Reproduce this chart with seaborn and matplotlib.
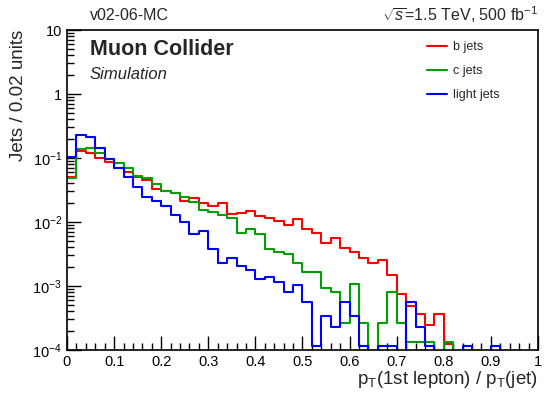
import numpy as np
import pandas as pd
import matplotlib
matplotlib.use("Agg")
import matplotlib.pyplot as plt
from matplotlib.lines import Line2D
import seaborn as sns

# ============================================
# DADOS (bins de 0.02)
# ============================================

bordas = [round(0.02 * i, 2) for i in range(51)]

b_jets = [0.0499, 0.127, 0.121, 0.101, 0.0875, 0.0705, 0.0611, 0.051, 0.0453, 0.0328,
          0.0305, 0.0287, 0.0213, 0.0234, 0.0195, 0.0176, 0.0200, 0.0132, 0.0140, 0.0150,
          0.0124, 0.0114, 0.0104, 0.0090, 0.0110, 0.0078, 0.0067, 0.00465, 0.00562, 0.00396,
          0.0034, 0.00271, 0.00226, 0.00259, 0.00151, 0.00074, 0.00049, 0.000366, 0.000244, 0.000366,
          0.000122, 0, 0, 0, 0, 0, 0, 0, 0, 0]

c_jets = [0.0487, 0.138, 0.145, 0.121, 0.0955, 0.0826, 0.069, 0.0524, 0.0482, 0.0388,
          0.0305, 0.0287, 0.0243, 0.0205, 0.0154, 0.0143, 0.0131, 0.0116, 0.0068, 0.0077,
          0.0064, 0.00374, 0.00337, 0.00316, 0.00231, 0.00167, 0.00167, 0.00093, 0.0008, 0.000266,
          0.00108, 0.000266, 0, 0.000266, 0.0008, 0.000266, 0.000133, 0.000133, 0.000133, 0,
          0.000133, 0, 0, 0, 0, 0, 0, 0, 0, 0]

light_jets = [0.1026, 0.226, 0.210, 0.142, 0.0955, 0.069, 0.051, 0.0356, 0.0243, 0.0213,
              0.0180, 0.0129, 0.0101, 0.0065, 0.0072, 0.00374, 0.00226, 0.00271, 0.00207, 0.00178,
              0.00129, 0.0014, 0.00117, 0.00082, 0.00104, 0.00057, 0.000114, 0.000342, 0.000228, 0.00057,
              0.000342, 0.000114, 0, 0.000114, 0.000114, 0, 0.00057, 0.000228, 0.000114, 0,
              0, 0, 0.000114, 0, 0, 0.000114, 0, 0, 0, 0]

sabores = ["b jets", "c jets", "light jets"]
cores = ["#ff0000", "#00a000", "#0000ff"]

y_ticks = [1e-4, 1e-3, 1e-2, 1e-1, 1, 10]
y_ticklabels = [r"$10^{-4}$", r"$10^{-3}$", r"$10^{-2}$", r"$10^{-1}$", "1", "10"]
x_ticks = [0, 0.1, 0.2, 0.3, 0.4, 0.5, 0.6, 0.7, 0.8, 0.9, 1]
x_ticklabels = ["0", "0.1", "0.2", "0.3", "0.4", "0.5", "0.6", "0.7", "0.8", "0.9", "1"]

centros = [(a + b) / 2 for a, b in zip(bordas[:-1], bordas[1:])]
df = pd.concat([
    pd.DataFrame({"x": centros, "w": vals, "sabor": nome})
    for nome, vals in zip(sabores, [b_jets, c_jets, light_jets])
])

# ============================================
# ESTILO
# ============================================

sns.set_style("white")
plt.rcParams["font.family"] = ["Liberation Sans", "DejaVu Sans"]
plt.rcParams["mathtext.fontset"] = "custom"
plt.rcParams["mathtext.rm"] = "Liberation Sans"
plt.rcParams["mathtext.it"] = "Liberation Sans:italic"
plt.rcParams["mathtext.bf"] = "Liberation Sans:bold"

fig = plt.figure(figsize=(5.46, 3.95), dpi=100)
ax = fig.add_axes([0.1227, 0.1139, 0.8626, 0.8101])

for nome, cor in zip(sabores, cores):
    sns.histplot(data=df[df["sabor"] == nome], x="x", weights="w", bins=bordas,
                 element="step", fill=False, color=cor, linewidth=1.5, ax=ax)

ax.set_yscale("log")
ax.set_xlim(0, 1)
ax.set_ylim(1e-4, 10)

ax.set_xticks(x_ticks)
ax.set_xticklabels(x_ticklabels)
ax.set_xticks(np.arange(0, 1.001, 0.02), minor=True)
ax.set_yticks(y_ticks)
ax.set_yticklabels(y_ticklabels)
ax.yaxis.set_minor_locator(matplotlib.ticker.LogLocator(base=10, subs=np.arange(2, 10)))
ax.yaxis.set_minor_formatter(matplotlib.ticker.NullFormatter())

ax.tick_params(which="both", direction="in", labelsize=10.5, colors="black",
               top=False, right=False, left=True, bottom=True)
ax.tick_params(which="major", length=10, width=1)
ax.tick_params(which="minor", length=5, width=1)
for s in ax.spines.values():
    s.set_color("black")
    s.set_linewidth(1.2)

ax.set_xlabel(r"p$_\mathregular{T}$(1st lepton) / p$_\mathregular{T}$(jet)", fontsize=13.5, loc="right", labelpad=0)
ax.set_ylabel("Jets / 0.02 units", fontsize=13.5, loc="top", labelpad=4)

# textos no topo
fig.text(0.165, 0.962, "v02-06-MC", fontsize=11.5, ha="left", va="center")
fig.text(0.985, 0.962, r"$\sqrt{s}$=1.5 TeV, 500 fb$^{-1}$", fontsize=11.5, ha="right", va="center")
ax.text(0.048, 0.94, "Muon Collider", transform=ax.transAxes, fontsize=15.5, fontweight="bold", va="center")
ax.text(0.048, 0.86, "Simulation", transform=ax.transAxes, fontsize=12, style="italic", va="center")

# legenda
handles = [Line2D([], [], color=c, linewidth=1.5) for c in cores]
ax.legend(handles, sabores, loc="upper left", bbox_to_anchor=(0.74, 1.0), frameon=False,
          fontsize=9, handlelength=1.6, handletextpad=0.5, labelspacing=0.95)

plt.savefig("out.png", dpi=100)
plt.close()
